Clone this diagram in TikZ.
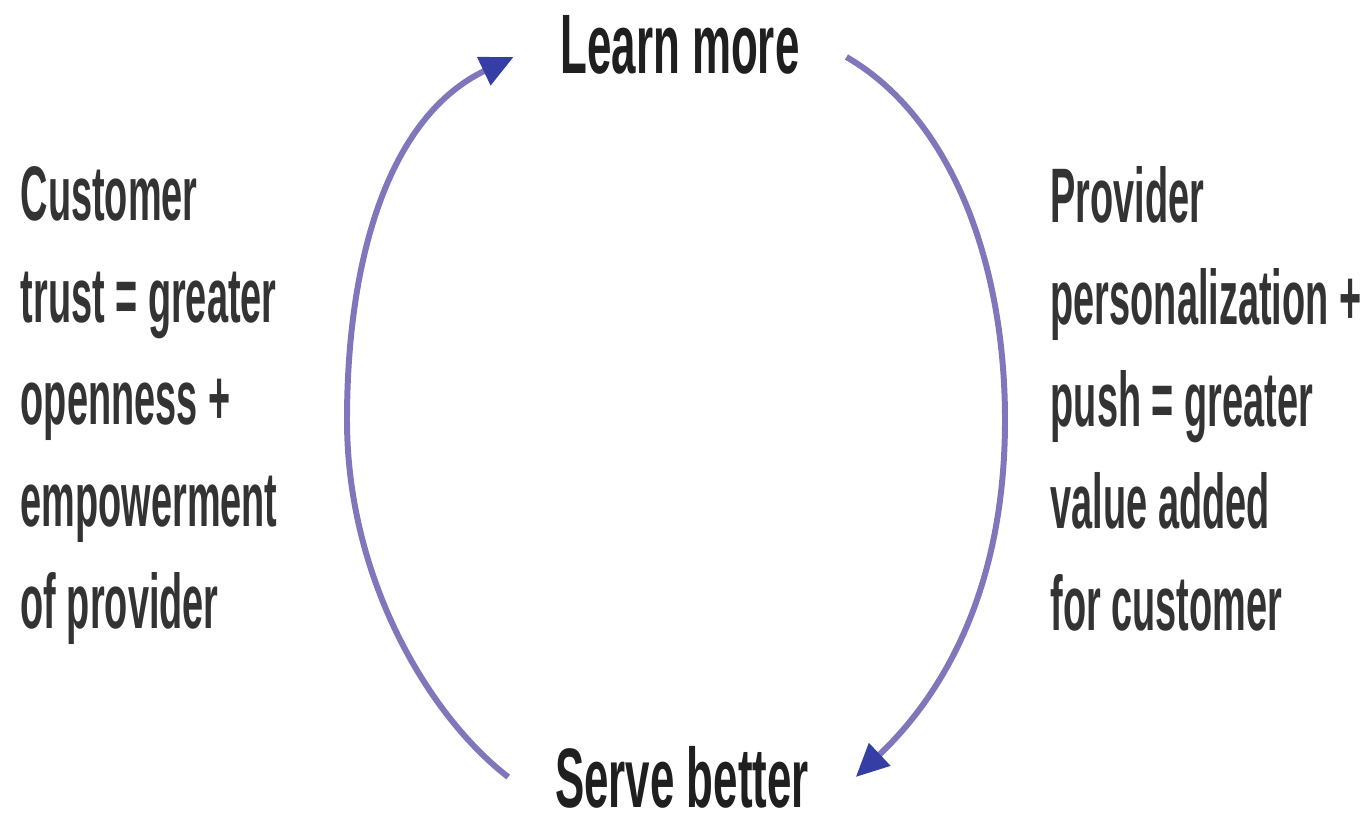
\documentclass[tikz,border=0pt]{standalone}
\usepackage{fontspec}
\newfontfamily\condfont{Liberation Sans}[FakeStretch=0.52]
\newfontfamily\sidefont{Liberation Sans}[FakeStretch=0.49]
\usepackage{xcolor}
\usetikzlibrary{arrows.meta, positioning}
\definecolor{loopline}{RGB}{128,118,188}
\definecolor{loophead}{RGB}{52,62,165}

\begin{document}
\begin{tikzpicture}[
        title/.style={inner sep=0pt, outer xsep=0.47cm, text=black!88, font=\condfont\bfseries\fontsize{24}{28}\selectfont},
        side/.style={inner sep=0pt, anchor=north west, align=left, text=black!80, font=\sidefont\bfseries\fontsize{22}{29}\selectfont},
        cyc/.style={-{Triangle[length=0.33cm, width=0.30cm, color=loophead]}, line width=1.7pt, draw=loopline}
    ]
        \useasboundingbox (0,0) rectangle (13.68,8.27);

        \node[title] (learn) at (6.80,7.82) {Learn more};
        \node[title] (serve) at (6.82,0.50) {Serve better};
        \node[side] (customer) at (0.20,6.61) {Customer\\trust = greater\\openness +\\empowerment\\of provider};
        \node[side] (provider) at (10.50,6.61) {Provider\\personalization +\\push = greater\\value added\\for customer};

        \draw[cyc] (serve.west) .. controls (4.30,1.10) and (3.47,2.47) .. (3.47,4.07)
            .. controls (3.47,5.67) and (3.88,7.10) .. ([yshift=-0.12cm]learn.west);
        \draw[cyc] ([yshift=-0.12cm]learn.east) .. controls (9.50,7.10) and (10.05,5.67) .. (10.05,4.07)
            .. controls (10.05,2.27) and (9.35,1.25) .. (serve.east);
    \end{tikzpicture}
\end{document}
